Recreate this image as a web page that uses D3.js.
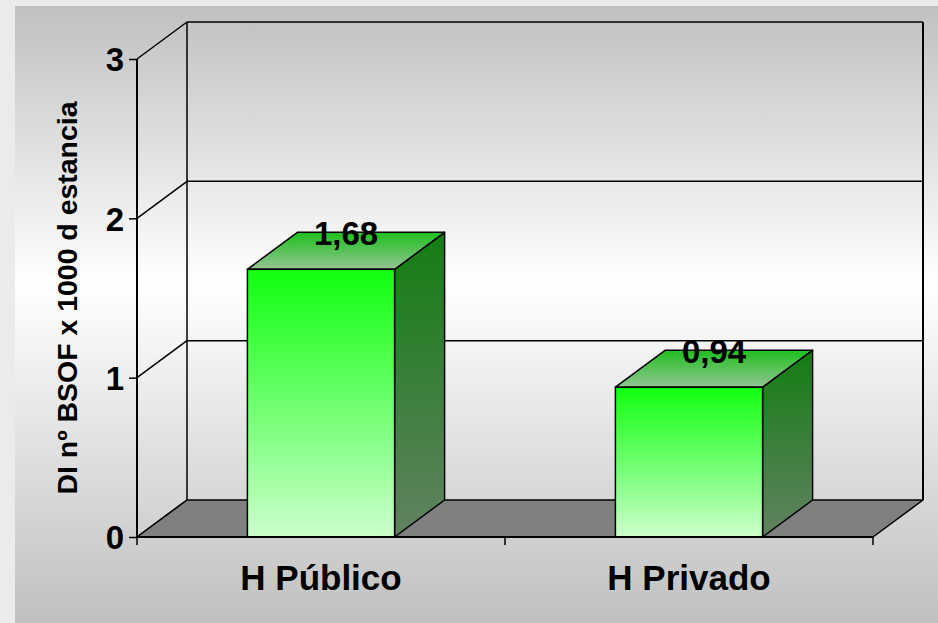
<!DOCTYPE html>
<html>
<head>
<meta charset="utf-8">
<script src="https://cdn.jsdelivr.net/npm/d3@7"></script>
<style>
  html, body { margin: 0; padding: 0; background: #ebebeb; }
  svg { display: block; }
</style>
</head>
<body>
<div id="chart"></div>
<script>
// datos
const categories = ['H Público', 'H Privado'];
const values = [1.68, 0.94];
const valueLabels = ['1,68', '0,94'];
const yTicks = [0, 1, 2, 3];
const yTitle = 'DI nº BSOF x 1000 d estancia';

const width = 938, height = 623;
const font = 'Arial, "Liberation Sans", sans-serif';

// profundidad 3D
const depthX = 50, depthY = -37;

const svg = d3.select('#chart').append('svg')
  .attr('width', width)
  .attr('height', height);

const defs = svg.append('defs');

function vGrad(id, stops) {
  const g = defs.append('linearGradient')
    .attr('id', id)
    .attr('x1', '0%').attr('y1', '0%')
    .attr('x2', '0%').attr('y2', '100%');
  stops.forEach(s => g.append('stop').attr('offset', s[0]).attr('stop-color', s[1]));
}

vGrad('bg-grad', [['0%', '#c0c0c0'], ['45%', '#ffffff'], ['100%', '#c0c0c0']]);
vGrad('front-grad', [['0%', '#10ff10'], ['100%', '#ccffcc']]);
vGrad('side-grad', [['0%', '#137d13'], ['100%', '#628262']]);
vGrad('top-grad', [['0%', '#1fbf1f'], ['100%', '#94c494']]);

// fondo del área del gráfico
svg.append('rect')
  .attr('x', 15).attr('y', 6)
  .attr('width', width - 15).attr('height', height - 6)
  .attr('fill', 'url(#bg-grad)');

// escalas
const x0 = 137, x1 = 873;
const y = d3.scaleLinear().domain([0, 3]).range([537, 59]);
const x = d3.scaleBand().domain(categories).range([x0, x1]).padding(0);
const barW = x.bandwidth() * 0.4;

const g = svg.append('g');

// rejilla en la pared del fondo y diagonales de la pared izquierda
yTicks.forEach(t => {
  const yy = y(t);
  g.append('line')
    .attr('x1', x0).attr('y1', yy)
    .attr('x2', x0 + depthX).attr('y2', yy + depthY)
    .attr('stroke', '#000').attr('stroke-width', 1.5);
  if (t > 0) {
    g.append('line')
      .attr('x1', x0 + depthX).attr('y1', yy + depthY)
      .attr('x2', x1 + depthX).attr('y2', yy + depthY)
      .attr('stroke', '#000').attr('stroke-width', 1.5);
  }
});

// bordes verticales de las paredes
g.append('line')
  .attr('x1', x0 + depthX).attr('y1', y(3) + depthY)
  .attr('x2', x0 + depthX).attr('y2', y(0) + depthY)
  .attr('stroke', '#000').attr('stroke-width', 1.5);
g.append('line')
  .attr('x1', x1 + depthX).attr('y1', y(3) + depthY)
  .attr('x2', x1 + depthX).attr('y2', y(0) + depthY)
  .attr('stroke', '#000').attr('stroke-width', 2);

// suelo
g.append('path')
  .attr('d', `M${x0},${y(0)} L${x1},${y(0)} L${x1 + depthX},${y(0) + depthY} L${x0 + depthX},${y(0) + depthY} Z`)
  .attr('fill', '#808080')
  .attr('stroke', '#000')
  .attr('stroke-width', 1.5)
  .attr('stroke-linejoin', 'round');

// barras 3D
const bars = g.selectAll('.bar')
  .data(categories.map((c, i) => ({ c, v: values[i], label: valueLabels[i] })))
  .enter().append('g')
  .attr('class', 'bar');

bars.each(function(d) {
  const sel = d3.select(this);
  const bx = x(d.c) + (x.bandwidth() - barW) / 2;
  const top = y(d.v), bot = y(0);
  // cara lateral
  sel.append('path')
    .attr('d', `M${bx + barW},${top} L${bx + barW + depthX},${top + depthY} L${bx + barW + depthX},${bot + depthY} L${bx + barW},${bot} Z`)
    .attr('fill', 'url(#side-grad)')
    .attr('stroke', '#000').attr('stroke-width', 1.5).attr('stroke-linejoin', 'round');
  // cara superior
  sel.append('path')
    .attr('d', `M${bx},${top} L${bx + depthX},${top + depthY} L${bx + barW + depthX},${top + depthY} L${bx + barW},${top} Z`)
    .attr('fill', 'url(#top-grad)')
    .attr('stroke', '#000').attr('stroke-width', 1.5).attr('stroke-linejoin', 'round');
  // cara frontal
  sel.append('rect')
    .attr('x', bx).attr('y', top)
    .attr('width', barW).attr('height', bot - top)
    .attr('fill', 'url(#front-grad)')
    .attr('stroke', '#000').attr('stroke-width', 1.5);
  // etiqueta de valor
  sel.append('text')
    .attr('x', bx + barW / 2 + depthX / 2)
    .attr('y', top + depthY + 13)
    .attr('text-anchor', 'middle')
    .style('font-family', font)
    .style('font-size', '33px')
    .style('font-weight', 'bold')
    .style('fill', '#000')
    .text(d.label);
});

// eje Y
const yAxis = g.append('g')
  .attr('transform', `translate(${x0},0)`)
  .call(d3.axisLeft(y).tickValues(yTicks).tickSize(8).tickPadding(5).tickFormat(d3.format('d')));
yAxis.select('.domain').attr('stroke', '#000').attr('stroke-width', 2).attr('d', `M0,${y(3)}V${y(0)}`);
yAxis.selectAll('.tick line').attr('stroke', '#000').attr('stroke-width', 1.5);
yAxis.selectAll('.tick text')
  .attr('dy', '0.36em')
  .style('font-family', font)
  .style('font-size', '33px')
  .style('font-weight', 'bold')
  .style('fill', '#000');

// eje X
const xAxis = g.append('g')
  .attr('transform', `translate(0,${y(0)})`)
  .call(d3.axisBottom(x).tickSize(0).tickPadding(28));
xAxis.select('.domain').attr('stroke', '#000').attr('stroke-width', 2).attr('d', `M${x0},0H${x1}`);
xAxis.selectAll('.tick text')
  .style('font-family', font)
  .style('font-size', '35px')
  .style('font-weight', 'bold')
  .style('fill', '#000');

// marcas entre categorías
const boundaries = [x0].concat(categories.map(c => x(c) + x.bandwidth()));
xAxis.selectAll('.sep')
  .data(boundaries)
  .enter().append('line')
  .attr('class', 'sep')
  .attr('x1', d => d).attr('x2', d => d)
  .attr('y1', 0).attr('y2', 8)
  .attr('stroke', '#000').attr('stroke-width', 1.5);

// título del eje Y
svg.append('text')
  .attr('transform', 'rotate(-90)')
  .attr('x', -298)
  .attr('y', 77)
  .attr('text-anchor', 'middle')
  .attr('textLength', 393)
  .attr('lengthAdjust', 'spacingAndGlyphs')
  .style('font-family', font)
  .style('font-size', '27px')
  .style('font-weight', 'bold')
  .style('fill', '#000')
  .text(yTitle);
</script>
</body>
</html>
